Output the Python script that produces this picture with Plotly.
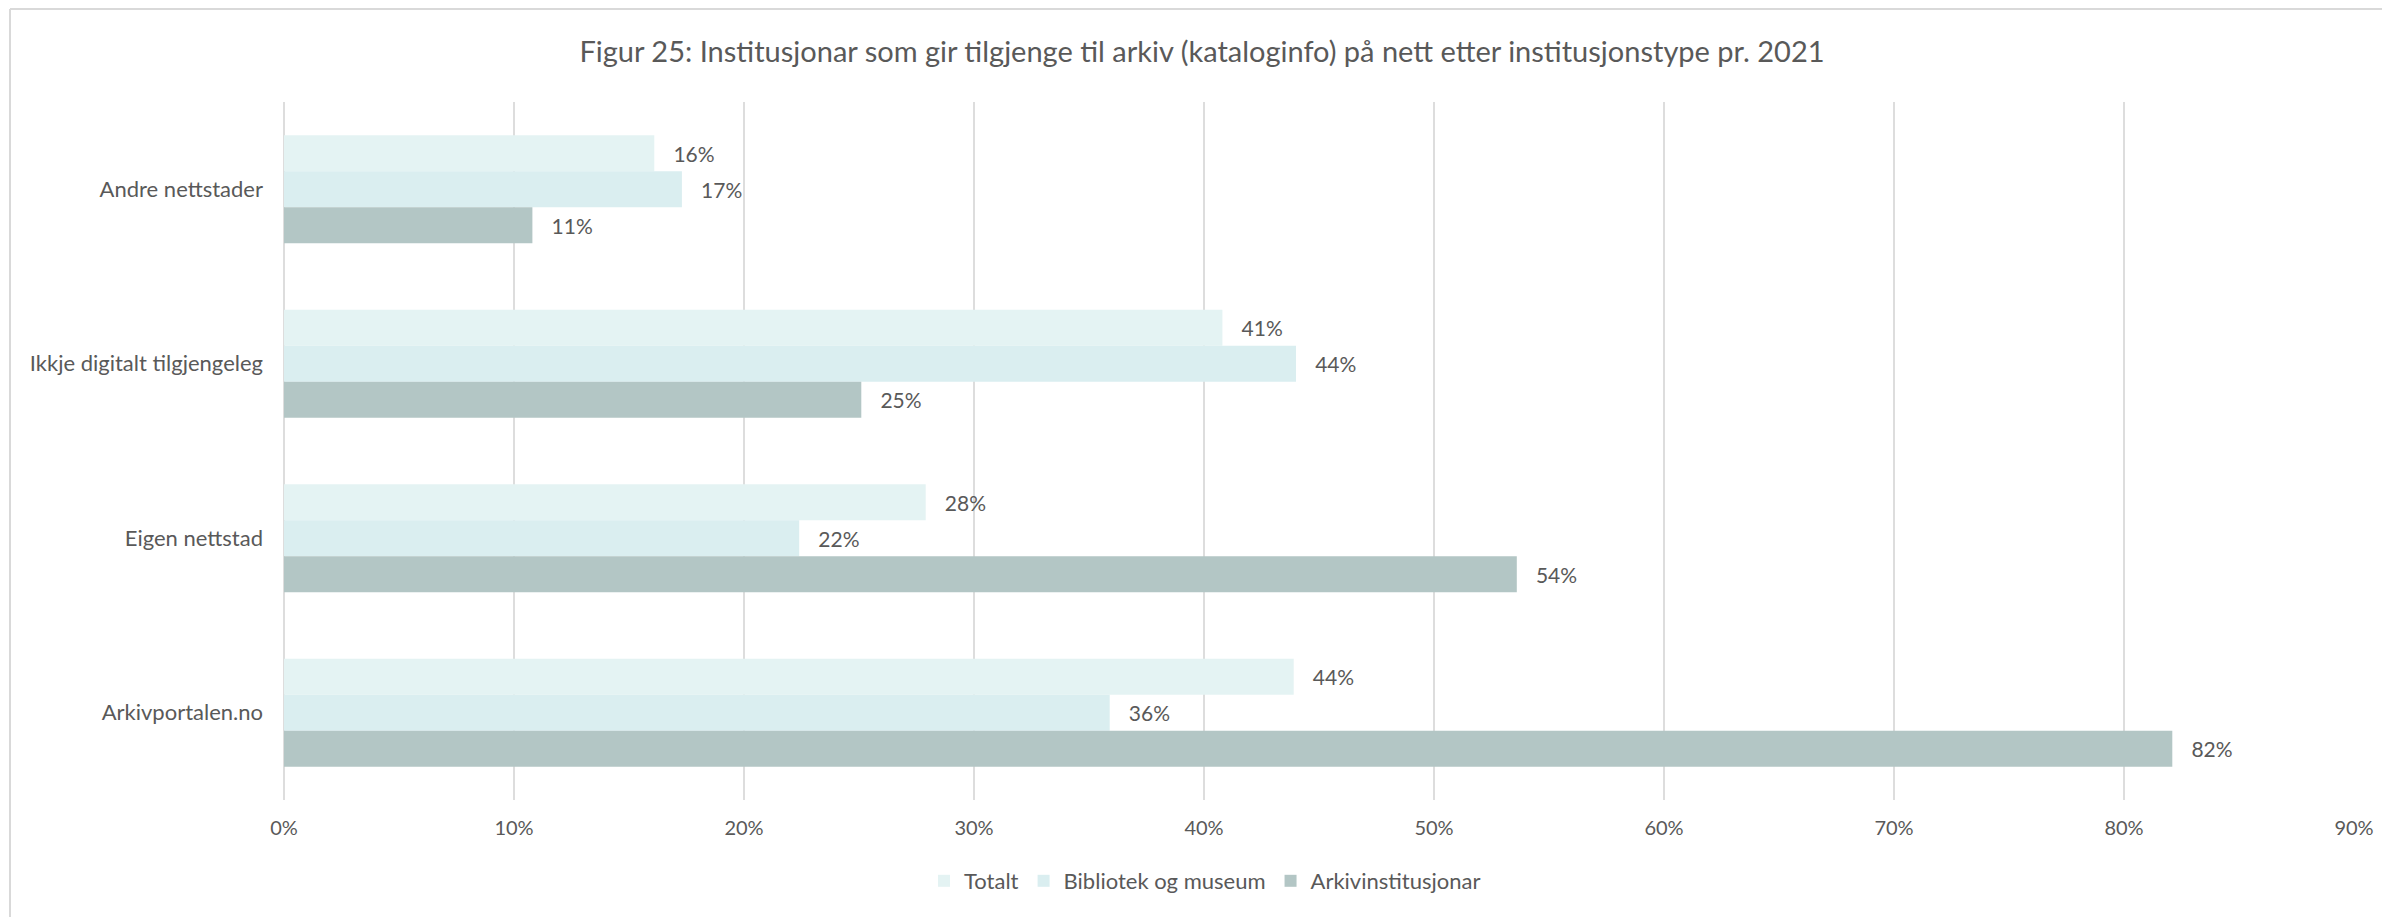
import plotly.graph_objects as go

# ---- data ----
categories = ["Andre nettstader", "Ikkje digitalt tilgjengeleg", "Eigen nettstad", "Arkivportalen.no"]
series_names = ["Totalt", "Bibliotek og museum", "Arkivinstitusjonar"]
totalt = [0.161, 0.408, 0.279, 0.439]
bibliotek = [0.173, 0.440, 0.224, 0.359]
arkiv = [0.108, 0.251, 0.536, 0.821]
x_ticks = [0, 0.1, 0.2, 0.3, 0.4, 0.5, 0.6, 0.7, 0.8, 0.9]
title_text = "Figur 25: Institusjonar som gir tilgjenge til arkiv (kataloginfo) på nett etter institusjonstype pr. 2021"

colors = ["#E4F3F3", "#DAEEF0", "#B3C6C5"]
FONT = "Lato"
TXT = "#595959"

OFF = 8  # page body margin
W, H = 2390 - OFF, 917 - OFF
L, R, T, B = 284 - OFF, 36, 102 - OFF, 117
PW, PH = W - L - R, H - T - B

fig = go.Figure()
for name, vals, col in zip(series_names, [totalt, bibliotek, arkiv], colors):
    fig.add_trace(go.Bar(
        name=name, y=categories, x=vals, orientation="h",
        marker=dict(color=col, line=dict(width=0)),
        texttemplate="\u00a0\u00a0\u00a0%{x:.0%}", textposition="outside",
        textfont=dict(family=FONT, size=21, color=TXT),
        cliponaxis=False,
    ))

# helpers: reference-page pixel -> paper coords
def px_x(p):
    return (p - OFF - L) / PW

def px_y(p):
    return (H - B - (p - OFF)) / PH

fig.update_layout(
    width=W, height=H,
    margin=dict(l=L, r=R, t=T, b=B),
    paper_bgcolor="white", plot_bgcolor="white",
    barmode="group", bargap=0.38, bargroupgap=0,
    font=dict(family=FONT, size=20, color=TXT),
    title=dict(text=title_text, x=(1202 - OFF) / W, xanchor="center", xref="container",
               y=1 - (52 - OFF) / H, yanchor="middle", yref="container",
               font=dict(family=FONT, size=29, color=TXT)),
    legend=dict(orientation="h", x=px_x(1205), xanchor="center",
                y=px_y(881), yanchor="middle",
                font=dict(family=FONT, size=22, color=TXT),
                itemwidth=30, traceorder="normal"),
    xaxis=dict(range=[0, 0.9], tickvals=x_ticks, tickformat=".0%",
               showgrid=True, gridcolor="#DDDDDD", gridwidth=2,
               zeroline=True, zerolinecolor="#DDDDDD", zerolinewidth=2,
               showline=False, ticks="", ticklabelstandoff=14,
               tickfont=dict(family=FONT, size=20, color=TXT), fixedrange=True),
    yaxis=dict(categoryorder="array", categoryarray=categories, autorange="reversed",
               showgrid=False, showline=False, ticks="", ticklabelstandoff=20,
               tickfont=dict(family=FONT, size=22, color=TXT)),
    shapes=[
        dict(type="line", xref="paper", yref="paper",
             x0=px_x(10), x1=px_x(10), y0=px_y(9), y1=px_y(930),
             line=dict(color="#D9D9D9", width=2)),
        dict(type="line", xref="paper", yref="paper",
             x0=px_x(10), x1=px_x(2400), y0=px_y(9), y1=px_y(9),
             line=dict(color="#D9D9D9", width=2)),
    ],
)

fig.write_html("out.html")
